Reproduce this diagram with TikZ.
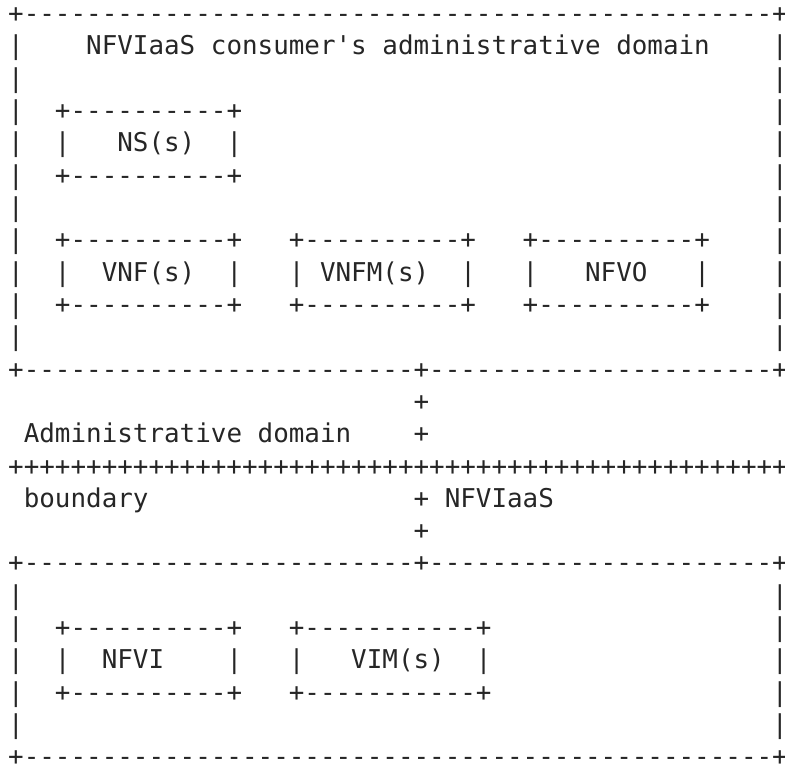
\documentclass[tikz,border=0pt]{standalone}
\usepackage{fontspec}
\newfontfamily\asciifont{DejaVu Sans Mono}
\tikzset{ascii/.style={font=\asciifont\fontsize{10}{12}\selectfont, inner sep=0pt, outer sep=0pt, anchor=base west, text=black!85}}

\begin{document}
\begin{tikzpicture}[x=6.02pt, y=-12.48pt]
\useasboundingbox (-0.527,0.304) rectangle (49.82,24.04);
% consumer's domain
\node[ascii] (ctop) at (0,1) {+------------------------------------------------+};
\foreach \r in {2,3,4,5,6,7,8,9,10,11,19,20,21,22,23}{
\node[ascii] (l\r) at (0,\r) {|};
\node[ascii] (r\r) at (49,\r) {|};
}
\node[ascii] (consumer) at (5,2) {NFVIaaS consumer's administrative domain};
\node[ascii] (nstop) at (3,4) {+----------+};
\node[ascii] (nsl) at (3,5) {|};
\node[ascii] (ns) at (7,5) {NS(s)};
\node[ascii] (nsr) at (14,5) {|};
\node[ascii] (nsbot) at (3,6) {+----------+};
\node[ascii] (vnftop) at (3,8) {+----------+};
\node[ascii] (vnfmtop) at (18,8) {+----------+};
\node[ascii] (nfvotop) at (33,8) {+----------+};
\node[ascii] (vnfl) at (3,9) {|};
\node[ascii] (vnf) at (6,9) {VNF(s)};
\node[ascii] (vnfr) at (14,9) {|};
\node[ascii] (vnfml) at (18,9) {|};
\node[ascii] (vnfm) at (20,9) {VNFM(s)};
\node[ascii] (vnfmr) at (29,9) {|};
\node[ascii] (nfvol) at (33,9) {|};
\node[ascii] (nfvo) at (37,9) {NFVO};
\node[ascii] (nfvor) at (44,9) {|};
\node[ascii] (vnfbot) at (3,10) {+----------+};
\node[ascii] (vnfmbot) at (18,10) {+----------+};
\node[ascii] (nfvobot) at (33,10) {+----------+};
\node[ascii] (cbot) at (0,12) {+-------------------------+----------------------+};
% boundary
\node[ascii] (p13) at (26,13) {+};
\node[ascii] (admin) at (1,14) {Administrative domain};
\node[ascii] (p14) at (26,14) {+};
\node[ascii] (bline) at (0,15) {++++++++++++++++++++++++++++++++++++++++++++++++++};
\node[ascii] (boundary) at (1,16) {boundary};
\node[ascii] (p16) at (26,16) {+};
\node[ascii] (nfviaas) at (28,16) {NFVIaaS};
\node[ascii] (p17) at (26,17) {+};
% NFVIaaS domain
\node[ascii] (ptop) at (0,18) {+-------------------------+----------------------+};
\node[ascii] (nfvitop) at (3,20) {+----------+};
\node[ascii] (vimtop) at (18,20) {+-----------+};
\node[ascii] (nfvil) at (3,21) {|};
\node[ascii] (nfvi) at (6,21) {NFVI};
\node[ascii] (nfvir) at (14,21) {|};
\node[ascii] (viml) at (18,21) {|};
\node[ascii] (vim) at (22,21) {VIM(s)};
\node[ascii] (vimr) at (30,21) {|};
\node[ascii] (nfvibot) at (3,22) {+----------+};
\node[ascii] (vimbot) at (18,22) {+-----------+};
\node[ascii] (pbot) at (0,24) {+------------------------------------------------+};
\end{tikzpicture}
\end{document}
